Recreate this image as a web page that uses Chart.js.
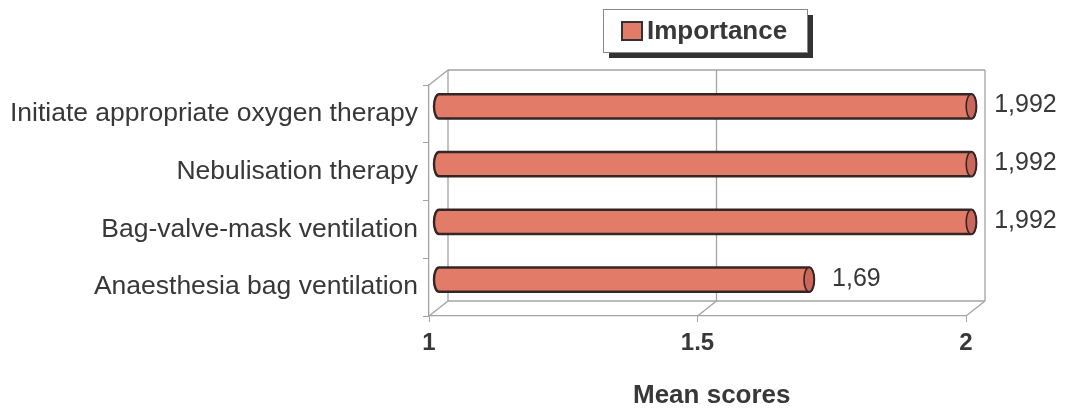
<!DOCTYPE html>
<html>
<head>
<meta charset="utf-8">
<script src="https://cdn.jsdelivr.net/npm/chart.js@4.4.1/dist/chart.umd.min.js"></script>
<style>
  html, body { margin: 0; padding: 0; background: #ffffff; }
  #wrap { width: 1071px; height: 409px; position: relative; }
</style>
</head>
<body>
<div id="wrap"><canvas id="c" width="1071" height="409"></canvas></div>
<script>
const categories = [
  'Initiate appropriate oxygen therapy',
  'Nebulisation therapy',
  'Bag-valve-mask ventilation',
  'Anaesthesia bag ventilation'
];
const importance = [1.992, 1.992, 1.992, 1.69];
const xTicks = [1, 1.5, 2];
const seriesName = 'Importance';
const axisTitle = 'Mean scores';

// depth of the pseudo-3D box (back wall offset from the front plane)
const DX = 19, DY = -15;
const FRAME = '#a3a3a3';
const BAR_FILL = '#e27c68';
const BAR_CAP = '#c9675a';
const BAR_EDGE = '#352626';
const TEXT = '#383838';
const FONT = '"Liberation Sans", Arial, sans-serif';

Chart.defaults.font.family = FONT;

function line(ctx, x0, y0, x1, y1) {
  ctx.beginPath();
  ctx.moveTo(x0, y0);
  ctx.lineTo(x1, y1);
  ctx.stroke();
}

// back wall, floor and side edges of the box
const boxFrame = {
  id: 'boxFrame',
  beforeDatasetsDraw(chart) {
    const { ctx, chartArea: a, scales } = chart;
    ctx.save();
    ctx.strokeStyle = FRAME;
    ctx.lineWidth = 1.3;
    // back wall
    line(ctx, a.left + DX, a.top + DY, a.right + DX, a.top + DY);
    line(ctx, a.left + DX, a.top + DY, a.left + DX, a.bottom + DY);
    line(ctx, a.right + DX, a.top + DY, a.right + DX, a.bottom + DY);
    line(ctx, a.left + DX, a.bottom + DY, a.right + DX, a.bottom + DY);
    // side wall edges
    line(ctx, a.left, a.top, a.left + DX, a.top + DY);
    line(ctx, a.left, a.bottom, a.left + DX, a.bottom + DY);
    line(ctx, a.right, a.bottom, a.right + DX, a.bottom + DY);
    // inner grid lines on wall and floor
    xTicks.forEach(v => {
      const px = scales.x.getPixelForValue(v);
      if (px <= a.left + 1 || px >= a.right - 1) return;
      line(ctx, px + DX, a.top + DY, px + DX, a.bottom + DY);
      line(ctx, px, a.bottom, px + DX, a.bottom + DY);
    });
    ctx.restore();
  }
};

// cylinders placed at mid depth, with value labels
const cylinders = {
  id: 'cylinders',
  afterDatasetsDraw(chart) {
    const { ctx } = chart;
    const meta = chart.getDatasetMeta(0);
    const values = chart.data.datasets[0].data;
    ctx.save();
    meta.data.forEach((el, i) => {
      const p = el.getProps(['x', 'y', 'base', 'height'], true);
      const x0 = p.base + DX / 2;
      const x1 = p.x + DX / 2;
      const yc = p.y + DY / 2;
      const ry = p.height / 2;
      const rx = 5;
      ctx.lineWidth = 2.4;
      ctx.strokeStyle = BAR_EDGE;
      ctx.fillStyle = BAR_FILL;
      ctx.beginPath();
      ctx.moveTo(x1, yc - ry);
      ctx.lineTo(x0, yc - ry);
      ctx.ellipse(x0, yc, rx, ry, 0, -Math.PI / 2, Math.PI / 2, true);
      ctx.lineTo(x1, yc + ry);
      ctx.ellipse(x1, yc, rx, ry, 0, Math.PI / 2, -Math.PI / 2, true);
      ctx.closePath();
      ctx.fill();
      ctx.stroke();
      // end cap
      ctx.fillStyle = BAR_CAP;
      ctx.beginPath();
      ctx.ellipse(x1, yc, rx, ry, 0, 0, Math.PI * 2);
      ctx.fill();
      ctx.lineWidth = 1.6;
      ctx.stroke();
      // value label
      ctx.fillStyle = TEXT;
      ctx.font = '25px ' + FONT;
      ctx.textAlign = 'left';
      ctx.textBaseline = 'middle';
      ctx.fillText(String(values[i]).replace('.', ','), x1 + rx + 18, yc - 1);
    });
    ctx.restore();
  }
};

// framed legend with drop shadow, and the value-axis title
const decorations = {
  id: 'decorations',
  afterDraw(chart) {
    const { ctx, chartArea: a } = chart;
    const ds = chart.data.datasets[0];
    const bx = 603, by = 9, bw = 204, bh = 43;
    ctx.save();
    ctx.fillStyle = '#333';
    ctx.fillRect(bx + 6, by + 6, bw, bh);
    ctx.fillStyle = '#fff';
    ctx.fillRect(bx, by, bw, bh);
    ctx.strokeStyle = '#888';
    ctx.lineWidth = 1;
    ctx.strokeRect(bx + 0.5, by + 0.5, bw, bh);
    ctx.fillStyle = BAR_FILL;
    ctx.fillRect(622, 22, 20, 18);
    ctx.strokeStyle = '#333';
    ctx.lineWidth = 2;
    ctx.strokeRect(622, 22, 20, 18);
    ctx.fillStyle = TEXT;
    ctx.font = 'bold 26px ' + FONT;
    ctx.textAlign = 'left';
    ctx.textBaseline = 'middle';
    ctx.fillText(ds.label, 647, 32);
    // axis title
    ctx.textAlign = 'center';
    ctx.fillText(axisTitle, (a.left + a.right) / 2 + DX * 0.75, 396);
    ctx.restore();
  }
};

new Chart(document.getElementById('c'), {
  type: 'bar',
  data: {
    labels: categories,
    datasets: [{
      label: seriesName,
      data: importance,
      base: 1,
      backgroundColor: 'rgba(0,0,0,0)',
      borderWidth: 0,
      categoryPercentage: 1,
      barPercentage: 0.42
    }]
  },
  options: {
    indexAxis: 'y',
    responsive: false,
    animation: false,
    devicePixelRatio: 1,
    layout: { padding: { top: 85, right: 105, left: 0, bottom: 0 } },
    plugins: {
      legend: { display: false },
      tooltip: { enabled: false }
    },
    scales: {
      x: {
        type: 'linear',
        min: 1,
        max: 2,
        afterFit(scale) { scale.height = 93; },
        afterBuildTicks(scale) { scale.ticks = xTicks.map(v => ({ value: v })); },
        ticks: {
          callback: v => String(v),
          color: TEXT,
          font: { size: 24, weight: 'bold' },
          padding: 7
        },
        grid: { drawOnChartArea: false, drawTicks: true, tickLength: 6, color: FRAME },
        border: { display: true, color: FRAME, width: 1.3 }
      },
      y: {
        type: 'category',
        afterFit(scale) { scale.width = 429; },
        ticks: { color: TEXT, font: { size: 26.5 }, padding: 5 },
        grid: { drawOnChartArea: false, drawTicks: true, tickLength: 6, color: FRAME, offset: true },
        border: { display: true, color: FRAME, width: 1.3 }
      }
    }
  },
  plugins: [boxFrame, cylinders, decorations]
});
</script>
</body>
</html>
